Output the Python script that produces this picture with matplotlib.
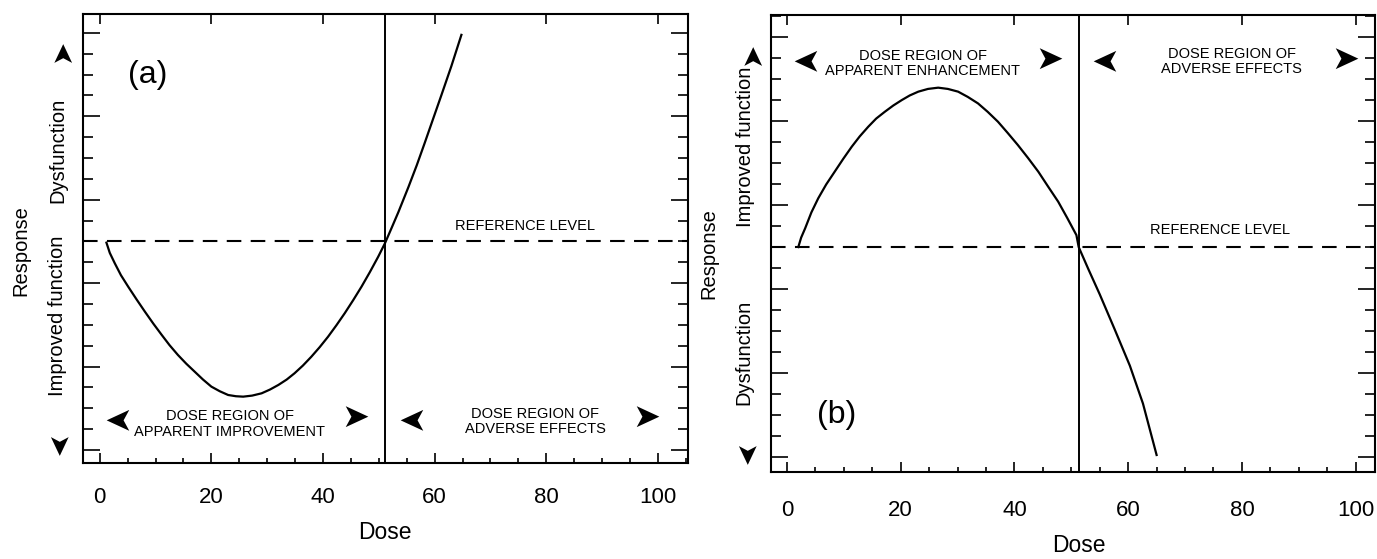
import matplotlib.pyplot as plt
from matplotlib.ticker import MultipleLocator

plt.rcParams["font.family"] = ["Liberation Sans", "DejaVu Sans"]

# -----------------------------
# DATA
# -----------------------------
# panel (a): J-shaped curve, dose vs response
dose_a = [1.2, 1.8, 2.7, 3.8, 5.1, 6.6, 8.1, 9.6, 11.1, 12.5, 14.0, 15.5, 17.0,
          18.5, 20.0, 21.5, 23.0, 24.4, 25.7, 27.3, 29.0, 30.5, 32.0, 33.5,
          34.9, 36.4, 37.9, 39.4, 40.9, 42.4, 43.9, 45.4, 46.9, 48.4, 49.9,
          51.1, 52.3, 53.5, 55.3, 56.8, 58.2, 59.7, 61.2, 63.0, 64.8]
resp_a = [9.94, 9.45, 8.95, 8.38, 7.83, 7.22, 6.63, 6.06, 5.52, 5.03, 4.56, 4.14, 3.76,
          3.38, 3.04, 2.82, 2.64, 2.58, 2.56, 2.61, 2.72, 2.90, 3.12, 3.38,
          3.68, 4.05, 4.47, 4.93, 5.43, 5.98, 6.56, 7.18, 7.83, 8.53, 9.27,
          9.91, 10.65, 11.4, 12.6, 13.65, 14.7, 15.85, 17.0, 18.4, 19.9]

# panel (b): inverted-U curve
dose_b = [2.0, 2.5, 3.2, 4.3, 5.5, 6.9, 8.4, 9.9, 11.4, 12.8, 14.3, 15.7, 17.2,
          18.7, 20.2, 21.6, 23.1, 24.8, 26.6, 28.3, 30.1, 31.8, 33.6, 35.3,
          37.1, 38.8, 40.6, 42.4, 44.2, 45.9, 47.7, 49.3, 50.9, 51.3, 53.0,
          55.0, 57.6, 60.3, 62.6, 65.0]
resp_b = [10.0, 10.45, 10.89, 11.65, 12.32, 12.98, 13.59, 14.2, 14.78, 15.27, 15.73, 16.12,
          16.44, 16.74, 17.0, 17.22, 17.40, 17.53, 17.59, 17.53, 17.40, 17.15, 16.84, 16.44,
          15.97, 15.44, 14.86, 14.24, 13.59, 12.89, 12.16, 11.38, 10.57, 10.0, 8.95,
          7.75, 6.1, 4.35, 2.55, 0.1]

ref_level = 10
threshold_a = 51.1
threshold_b = 51.3
x_ticks = [0, 20, 40, 60, 80, 100]

ARROW = "\u27a4"
W, H = 1377, 559


def fx(px):
    return px / W


def fy(py):
    return 1 - py / H


fig = plt.figure(figsize=(13.77, 5.59), dpi=100)
ax_a = fig.add_axes([fx(83), fy(463), fx(688) - fx(83), fy(14) - fy(463)])
ax_b = fig.add_axes([fx(771), fy(472), fx(1375) - fx(771), fy(15) - fy(472)])


def style_axes(ax, xlim, ylim, pad):
    ax.set_xlim(*xlim)
    ax.set_ylim(*ylim)
    for s in ax.spines.values():
        s.set_linewidth(1.5)
    ax.set_xticks(x_ticks)
    ax.xaxis.set_minor_locator(MultipleLocator(5))
    ax.yaxis.set_major_locator(MultipleLocator(4))
    ax.yaxis.set_minor_locator(MultipleLocator(1))
    ax.tick_params(axis="x", which="major", direction="in", length=7, width=1.2,
                   top=True, bottom=True, labelsize=16, pad=pad)
    ax.tick_params(axis="x", which="minor", direction="in", length=3.5, width=1.2,
                   top=False, bottom=True)
    ax.tick_params(axis="y", which="major", direction="in", length=12, width=1.2,
                   left=True, right=True, labelleft=False)
    ax.tick_params(axis="y", which="minor", direction="in", length=7, width=1.2,
                   left=True, right=True)


def arrow(ax, x, y, rot, size=24):
    ax.text(x, y, ARROW, rotation=rot, ha="center", va="center",
            rotation_mode="anchor", fontsize=size, family="DejaVu Sans")


def fig_arrow(px, py, rot, size=20):
    fig.text(fx(px), fy(py), ARROW, rotation=rot, ha="center", va="center",
             rotation_mode="anchor", fontsize=size, family="DejaVu Sans")


# -----------------------------
# PANEL (a)
# -----------------------------
style_axes(ax_a, (-3.0, 105.4), (-0.62, 20.9), pad=17)
ax_a.plot(dose_a, resp_a, color="black", lw=1.6, solid_joinstyle="round")
ax_a.axhline(ref_level, color="black", lw=1.5, linestyle=(0, (7, 4.5)))
ax_a.axvline(threshold_a, color="black", lw=1.4)

ax_a.text(8.6, 18.0, "(a)", fontsize=23, ha="center", va="center")
ax_a.text(76.2, 10.75, "REFERENCE LEVEL", fontsize=10.5, ha="center", va="center")
ax_a.text(23.3, 1.25, "DOSE REGION OF\nAPPARENT IMPROVEMENT", fontsize=10.5,
          ha="center", va="center", linespacing=1.1)
ax_a.text(78.0, 1.35, "DOSE REGION OF\nADVERSE EFFECTS", fontsize=10.5,
          ha="center", va="center", linespacing=1.1)
arrow(ax_a, 2.3, 1.55, 180)
arrow(ax_a, 45.7, 1.55, 0)
arrow(ax_a, 55.0, 1.55, 180)
arrow(ax_a, 98.0, 1.55, 0)

ax_a.set_xlabel("Dose", fontsize=16.5)
ax_a.xaxis.set_label_coords(0.499, -0.13)

fig.text(fx(21), fy(251), "Response", rotation=90, ha="center", va="center", fontsize=14.5)
fig.text(fx(58), fy(150), "Dysfunction", rotation=90, ha="center", va="center", fontsize=14.5)
fig.text(fx(58), fy(316), "Improved function", rotation=90, ha="center", va="center",
         fontsize=14.5)
fig_arrow(62, 50, 90)
fig_arrow(55, 448, -90)

# -----------------------------
# PANEL (b)
# -----------------------------
style_axes(ax_b, (-2.8, 103.4), (-0.71, 21.05), pad=20)
ax_b.plot(dose_b, resp_b, color="black", lw=1.6, solid_joinstyle="round")
ax_b.axhline(ref_level, color="black", lw=1.5, linestyle=(0, (7, 4.5)))
ax_b.axvline(threshold_b, color="black", lw=1.4)

ax_b.text(8.8, 2.0, "(b)", fontsize=23, ha="center", va="center")
ax_b.text(76.1, 10.8, "REFERENCE LEVEL", fontsize=10.5, ha="center", va="center")
ax_b.text(23.9, 18.75, "DOSE REGION OF\nAPPARENT ENHANCEMENT", fontsize=10.5,
          ha="center", va="center", linespacing=1.1)
ax_b.text(78.2, 18.85, "DOSE REGION OF\nADVERSE EFFECTS", fontsize=10.5,
          ha="center", va="center", linespacing=1.1)
arrow(ax_b, 2.3, 18.95, 180)
arrow(ax_b, 46.2, 18.95, 0)
arrow(ax_b, 55.0, 18.95, 180)
arrow(ax_b, 98.1, 18.95, 0)

ax_b.set_xlabel("Dose", fontsize=16.5)
ax_b.xaxis.set_label_coords(0.51, -0.135)

fig.text(fx(709), fy(254), "Response", rotation=90, ha="center", va="center", fontsize=14.5)
fig.text(fx(746), fy(147), "Improved function", rotation=90, ha="center", va="center",
         fontsize=14.5)
fig.text(fx(744), fy(352), "Dysfunction", rotation=90, ha="center", va="center", fontsize=14.5)
fig_arrow(752, 53, 90)
fig_arrow(743, 457, -90)

fig.savefig("out.png", dpi=100)
